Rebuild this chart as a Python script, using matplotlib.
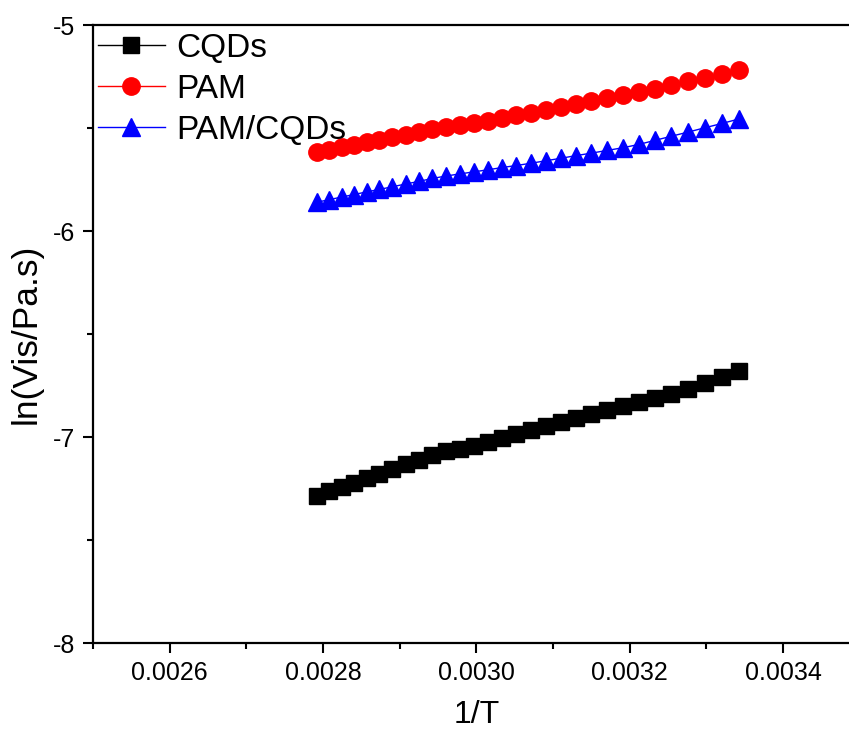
import numpy as np
import matplotlib.pyplot as plt

plt.rcParams['font.family'] = ['Liberation Sans', 'DejaVu Sans']

# 1/T values (K^-1)
inv_T = [0.0027921, 0.0028081, 0.0028242, 0.0028405, 0.0028570, 0.0028737,
         0.0028907, 0.0029077, 0.0029251, 0.0029426, 0.0029603, 0.0029782,
         0.0029964, 0.0030148, 0.0030334, 0.0030522, 0.0030713, 0.0030906,
         0.0031101, 0.0031300, 0.0031500, 0.0031703, 0.0031909, 0.0032117,
         0.0032329, 0.0032543, 0.0032760, 0.0032979, 0.0033203, 0.0033428]

cqds = [-7.285, -7.264, -7.243, -7.221, -7.200, -7.178, -7.156, -7.133,
        -7.111, -7.088, -7.069, -7.056, -7.042, -7.024, -7.004, -6.985,
        -6.966, -6.947, -6.928, -6.909, -6.890, -6.871, -6.851, -6.831,
        -6.811, -6.790, -6.766, -6.738, -6.709, -6.680]

pam = [-5.617, -5.605, -5.593, -5.581, -5.569, -5.557, -5.545, -5.532,
       -5.519, -5.507, -5.496, -5.486, -5.476, -5.464, -5.451, -5.438,
       -5.425, -5.411, -5.398, -5.384, -5.370, -5.356, -5.341, -5.326,
       -5.309, -5.291, -5.273, -5.255, -5.237, -5.218]

pam_cqds = [-5.860, -5.848, -5.835, -5.823, -5.810, -5.798, -5.785, -5.772,
            -5.759, -5.745, -5.733, -5.723, -5.713, -5.703, -5.692, -5.682,
            -5.671, -5.659, -5.647, -5.634, -5.622, -5.609, -5.596, -5.580,
            -5.560, -5.540, -5.520, -5.499, -5.478, -5.456]

fig = plt.figure(figsize=(8.49, 7.38), dpi=100)
ax = fig.add_axes([0.1095, 0.1287, 0.903, 0.8374])

ax.plot(inv_T, cqds, color='black', marker='s', ms=11, lw=1, label='CQDs')
ax.plot(inv_T, pam, color='red', marker='o', ms=12.5, lw=1, label='PAM')
ax.plot(inv_T, pam_cqds, color='blue', marker='^', ms=13, lw=1, label='PAM/CQDs')

ax.set_xlim(0.0025, 0.0035)
ax.set_ylim(-8, -5)
ax.set_xticks([0.0026, 0.0028, 0.0030, 0.0032, 0.0034])
ax.set_xticks([0.0025, 0.0027, 0.0029, 0.0031, 0.0033, 0.0035], minor=True)
ax.set_xticklabels(['0.0026', '0.0028', '0.0030', '0.0032', '0.0034'])
ax.set_yticks([-8, -7, -6, -5])
ax.set_yticks([-7.5, -6.5, -5.5], minor=True)
ax.set_yticklabels(['-8', '-7', '-6', '-5'])

ax.tick_params(which='major', direction='out', length=7, width=1.5, labelsize=18, pad=6)
ax.tick_params(which='minor', direction='out', length=4, width=1.5)
for s in ax.spines.values():
    s.set_linewidth(1.6)

ax.set_xlabel('1/T', fontsize=23, labelpad=11)
ax.set_ylabel('ln(Vis/Pa.s)', fontsize=25.5, labelpad=7)

ax.legend(loc='upper left', frameon=False, fontsize=24, handlelength=2.0,
          borderaxespad=0.05, labelspacing=0.3, handletextpad=0.35,
          borderpad=0.1, bbox_to_anchor=(0.0, 0.995))

fig.savefig('out.png', dpi=100)
